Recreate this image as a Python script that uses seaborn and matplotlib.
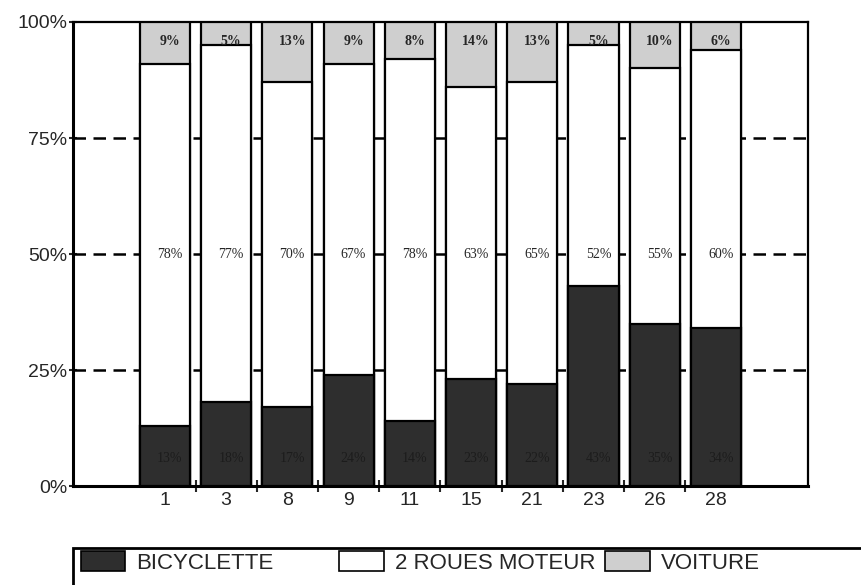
import pandas as pd
import seaborn as sns
import matplotlib.pyplot as plt
from matplotlib.patches import Patch, Rectangle

# Values (percent of trips)
zones = ["1", "3", "8", "9", "11", "15", "21", "23", "26", "28"]
bicyclette = [13, 18, 17, 24, 14, 23, 22, 43, 35, 34]
roues_moteur = [78, 77, 70, 67, 78, 63, 65, 52, 55, 60]
voiture = [9, 5, 13, 9, 8, 14, 13, 5, 10, 6]
series = ["BICYCLETTE", "2 ROUES MOTEUR", "VOITURE"]

DARK = "#2e2e2e"
LIGHT = "#cfcfcf"

df = pd.DataFrame({"zone": zones, "bici": bicyclette, "moto": roues_moteur, "auto": voiture})
df["total"] = df["bici"] + df["moto"] + df["auto"]
df["bici_moto"] = df["bici"] + df["moto"]

sns.set_style("white")
plt.rcParams["font.family"] = ["Liberation Sans", "DejaVu Sans"]

fig = plt.figure(figsize=(8.61, 5.85), dpi=100)
ax = fig.add_axes([0.0848, 0.1692, 0.8536, 0.7932])

# stacked bars: draw cumulative totals on top of each other
bar_kw = dict(order=zones, width=0.82, edgecolor="black", linewidth=1.6, ax=ax, zorder=3)
sns.barplot(data=df, x="zone", y="total", color=LIGHT, saturation=1, **bar_kw)
sns.barplot(data=df, x="zone", y="bici_moto", color="white", saturation=1, **bar_kw)
sns.barplot(data=df, x="zone", y="bici", color=DARK, saturation=1, **bar_kw)

# value labels
for i, row in df.iterrows():
    ax.text(i + 0.08, 50, f"{row['moto']}%", ha="center", va="center",
            fontsize=10, family="Liberation Serif", zorder=5)
    ax.text(i + 0.08, 95.8, f"{row['auto']}%", ha="center", va="center",
            fontsize=10, family="Liberation Serif", fontweight="bold", zorder=5)
    ax.text(i + 0.08, 6, f"{row['bici']}%", ha="center", va="center",
            fontsize=10, family="Liberation Serif", color="#1c1c1c", zorder=5)

# dashed reference lines
for y in [25, 50, 75]:
    ax.axhline(y, color="black", linestyle=(0, (5, 3)), linewidth=1.8, zorder=1)

ax.set_xlim(-1.5, 10.5)
ax.set_ylim(0, 100)
ax.set_yticks([0, 25, 50, 75, 100])
ax.set_yticklabels(["0%", "25%", "50%", "75%", "100%"], fontsize=14)
ax.tick_params(axis="y", direction="inout", length=6, width=1.5, pad=1, left=True)

ax.set_xticks(range(len(zones)))
ax.set_xticklabels(zones, fontsize=14)
ax.tick_params(axis="x", length=0, pad=4)
ax.set_xticks([i + 0.5 for i in range(len(zones) - 1)], minor=True)
ax.tick_params(axis="x", which="minor", direction="inout", length=8, width=1.5, bottom=True)

ax.set_xlabel("")
ax.set_ylabel("")
for side in ["left", "bottom"]:
    ax.spines[side].set_linewidth(2.2)
for side in ["top", "right"]:
    ax.spines[side].set_linewidth(1.6)
for s in ax.spines.values():
    s.set_color("black")

# legend below the chart, one entry per legend so each sits where the original put it
colors = [DARK, "white", LIGHT]
legend_x = [0.094, 0.394, 0.703]
for label, col, lx in zip(series, colors, legend_x):
    h = Patch(facecolor=col, edgecolor="black", linewidth=1.2, label=label)
    fig.legend(handles=[h], loc="center left", bbox_to_anchor=(lx, 0.039),
               frameon=False, fontsize=16, handlelength=2.0, handleheight=1.05,
               handletextpad=0.5, borderpad=0, borderaxespad=0)
fig.patches.append(Rectangle((0.085, -0.05), 0.95, 0.113, transform=fig.transFigure,
                             fill=False, edgecolor="black", linewidth=2))

plt.savefig("out.png", dpi=100)
